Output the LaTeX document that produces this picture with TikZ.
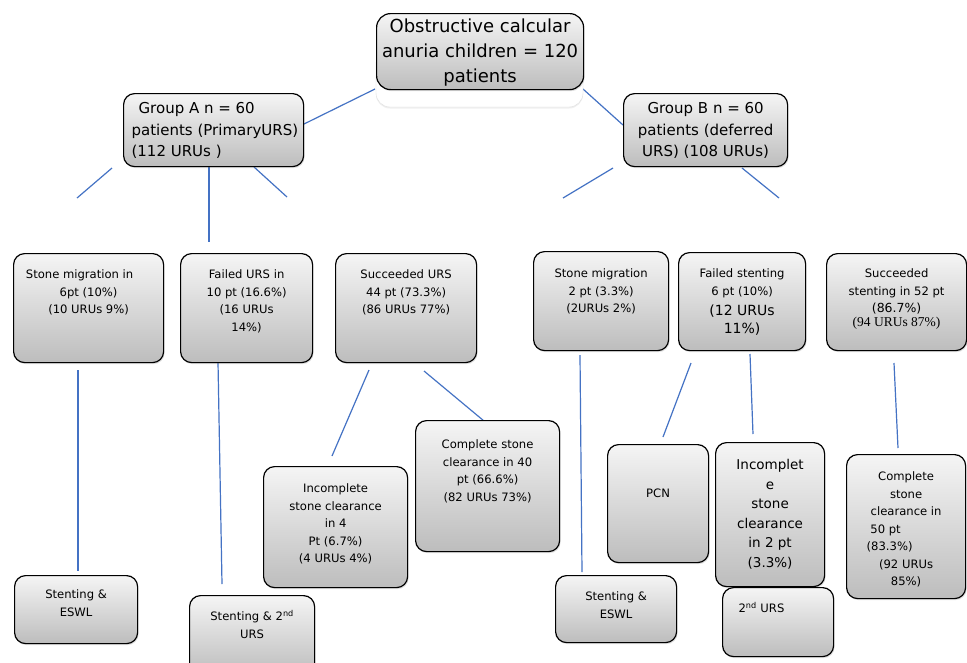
\documentclass[tikz,border=0pt]{standalone}
\usepackage{fontspec}
\setmainfont{DejaVu Sans}
\newfontfamily\tnr{Liberation Serif}
\usetikzlibrary{shadows}
\definecolor{lnk}{HTML}{4472C4}
\newcommand{\inbox}[5][\centering]{\parbox[c][#3][t]{#2}{#1\vspace*{\dimexpr#4-\ht\strutbox\relax}\strut#5}}

\begin{document}
\begin{tikzpicture}[x=1pt,y=-1pt,
    box/.style={draw, line width=1.2pt, rounded corners=11pt, top color=gray!8, bottom color=gray!52,
        inner sep=0pt, anchor=north west, font=\fontsize{11.6}{17.5}\selectfont,
        drop shadow={shadow xshift=1pt, shadow yshift=-1.5pt, opacity=.25}},
    link/.style={lnk, line width=1.2pt}]
                \clip (0,0) rectangle (967,662);
                \fill[white] (0,0) rectangle (967,662);

                \coordinate (TA1) at (375,89);
                \coordinate (TA2) at (302,125);
                \coordinate (TB1) at (583,89);
                \coordinate (TB2) at (623,125);
                \coordinate (A1) at (112,168);
                \coordinate (A1e) at (77,198);
                \coordinate (A2) at (209,165);
                \coordinate (A2e) at (209,242);
                \coordinate (A3) at (254,167);
                \coordinate (A3e) at (287,197);
                \coordinate (B1) at (613,168);
                \coordinate (B1e) at (563,198);
                \coordinate (B2) at (742,168);
                \coordinate (B2e) at (779,198);

                \coordinate (SA1) at (78,370);
                \coordinate (SA2) at (78,571);
                \coordinate (FA1) at (218,362);
                \coordinate (FA2) at (222,584);
                \coordinate (CA1) at (369,370);
                \coordinate (CA2) at (332,456);
                \coordinate (CA3) at (424,371);
                \coordinate (CA4) at (484,421);
                \coordinate (SB1) at (580,355);
                \coordinate (SB2) at (582,572);
                \coordinate (FB1) at (691,363);
                \coordinate (FB2) at (663,437);
                \coordinate (FB3) at (750,354);
                \coordinate (FB4) at (753,434);
                \coordinate (CB1) at (894,363);
                \coordinate (CB2) at (898,448);

                \draw[link] (TA1) -- (TA2);
                \draw[link] (TB1) -- (TB2);
                \draw[link] (A1) -- (A1e);
                \draw[link] (A2) -- (A2e);
                \draw[link] (A3) -- (A3e);
                \draw[link] (B1) -- (B1e);
                \draw[link] (B2) -- (B2e);
                \draw[link] (SA1) -- (SA2);
                \draw[link] (FA1) -- (FA2);
                \draw[link] (CA1) -- (CA2);
                \draw[link] (CA3) -- (CA4);
                \draw[link] (SB1) -- (SB2);
                \draw[link] (FB1) -- (FB2);
                \draw[link] (FB3) -- (FB4);
                \draw[link] (CB1) -- (CB2);

                \draw[draw=gray!25, fill=white, rounded corners=14pt,
                    drop shadow={shadow xshift=0pt, shadow yshift=-1.5pt, opacity=.12}] (376,50) rectangle (583,107);
                \node[box, rounded corners=14pt, font=\fontsize{18}{25}\selectfont] (top) at (376,13)
                    {\inbox{207pt}{76pt}{19pt}{Obstructive calcular\\anuria children = 120\\patients}};

                \node[box, font=\fontsize{15}{21.5}\selectfont] (grpA) at (123,93)
                    {\inbox[\raggedright\leftskip=8pt]{180pt}{73pt}{20pt}{\hspace*{7pt}Group A n = 60\\patients (PrimaryURS)\\(112 URUs )}};
                \node[box, font=\fontsize{15}{21.5}\selectfont] (grpB) at (623,93)
                    {\inbox{164pt}{73pt}{20pt}{Group B n = 60\\patients (deferred\\URS) (108 URUs)}};

                \node[box] (migA) at (13,253)
                    {\inbox{150pt}{109pt}{25pt}{\hspace*{-18pt}Stone migration in\\6pt (10\%)\\(10 URUs 9\%)}};
                \node[box] (failA) at (180,253)
                    {\inbox{132pt}{109pt}{25pt}{Failed URS in\\10 pt (16.6\%)\\(16 URUs\\14\%)}};
                \node[box] (succA) at (335,253)
                    {\inbox{141pt}{109pt}{25pt}{Succeeded URS\\44 pt (73.3\%)\\(86 URUs 77\%)}};

                \node[box] (migB) at (533,251)
                    {\inbox{135pt}{99pt}{26pt}{Stone migration\\2 pt (3.3\%)\\(2URUs 2\%)}};
                \node[box] (failB) at (678,252)
                    {\inbox{127pt}{98pt}{25pt}{Failed stenting\\6 pt (10\%)\\[2pt]{\fontsize{14}{18.5}\selectfont(12 URUs\\11\%)}}};
                \node[box] (succB) at (826,253)
                    {\inbox{140pt}{97pt}{24pt}{Succeeded\\stenting in 52 pt\\{\fontsize{12.5}{17.5}\selectfont(86.7\%)}\\[-3.5pt]{\tnr\fontsize{13.5}{14}\selectfont(94 URUs 87\%)}}};

                \node[box] (incA) at (263,466)
                    {\inbox{144pt}{121pt}{26pt}{Incomplete\\stone clearance\\in 4\\Pt (6.7\%)\\(4 URUs 4\%)}};
                \node[box] (compA) at (415,420)
                    {\inbox{144pt}{131pt}{28pt}{Complete stone\\clearance in 40\\pt (66.6\%)\\(82 URUs 73\%)}};

                \node[box] (pcn) at (607,444)
                    {\inbox{101pt}{118pt}{53pt}{PCN}};
                \node[box, font=\fontsize{13.5}{19.5}\selectfont] (incB) at (715,442)
                    {\inbox{109pt}{144pt}{27pt}{Incomplet\\e\\stone\\clearance\\in 2 pt\\(3.3\%)}};
                \node[box] (compB) at (846,454)
                    {\inbox{119pt}{144pt}{26pt}{Complete\\stone\\clearance in\\\hspace*{-41pt}50 pt\\\hspace*{-33pt}(83.3\%)\\(92 URUs\\85\%)}};

                \node[box] (eswlA) at (14,575)
                    {\inbox{123pt}{68pt}{23pt}{Stenting \&\\ESWL}};
                \node[box] (ursA) at (189,595)
                    {\inbox{125pt}{80pt}{25pt}{Stenting \& 2\textsuperscript{nd}\\URS}};
                \node[box] (eswlB) at (555,575)
                    {\inbox{121pt}{67pt}{25pt}{Stenting \&\\ESWL}};
                \node[box] (ursB) at (722,587)
                    {\inbox[\raggedright\leftskip=16pt]{111pt}{69pt}{25pt}{2\textsuperscript{nd} URS}};
            \end{tikzpicture}
\end{document}
